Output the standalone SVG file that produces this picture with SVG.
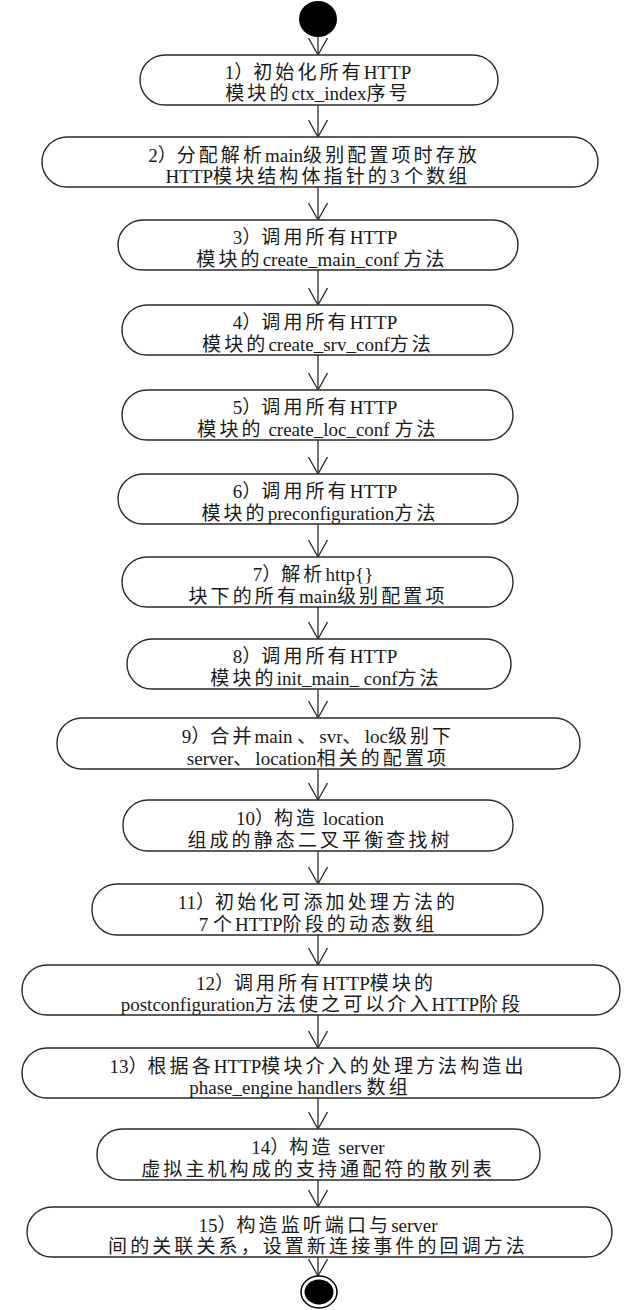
<svg xmlns="http://www.w3.org/2000/svg" width="641" height="1310" viewBox="0 0 641 1310">
<defs>
<style>
.box{fill:#fff;stroke:#2a2a2a;stroke-width:1.4}
.t{font-family:"Liberation Serif","Noto Sans CJK SC",serif;font-size:19px;fill:#1a1a1a;text-anchor:middle}
.c{letter-spacing:3.1px}
.ln{stroke:#2a2a2a;stroke-width:1.3;fill:none}
</style>
<marker id="v" markerWidth="20" markerHeight="22" refX="17" refY="10" orient="auto" markerUnits="userSpaceOnUse" viewBox="0 0 20 22">
<path d="M0,0.5 L17,10 L0,19.5" fill="none" stroke="#2a2a2a" stroke-width="1.3"/>
</marker>
</defs>
<rect width="641" height="1310" fill="#fff"/>
<g id="connectors">
<line class="ln" x1="318" y1="37" x2="318" y2="55" marker-end="url(#v)"/>
<line class="ln" x1="318" y1="105" x2="318" y2="137" marker-end="url(#v)"/>
<line class="ln" x1="318" y1="187" x2="318" y2="220" marker-end="url(#v)"/>
<line class="ln" x1="318" y1="270" x2="318" y2="305" marker-end="url(#v)"/>
<line class="ln" x1="318" y1="355" x2="318" y2="390" marker-end="url(#v)"/>
<line class="ln" x1="318" y1="440" x2="318" y2="474" marker-end="url(#v)"/>
<line class="ln" x1="318" y1="524" x2="318" y2="557" marker-end="url(#v)"/>
<line class="ln" x1="318" y1="607" x2="318" y2="639" marker-end="url(#v)"/>
<line class="ln" x1="318" y1="689" x2="318" y2="718" marker-end="url(#v)"/>
<line class="ln" x1="318" y1="769" x2="318" y2="800" marker-end="url(#v)"/>
<line class="ln" x1="318" y1="851" x2="318" y2="884" marker-end="url(#v)"/>
<line class="ln" x1="318" y1="935" x2="318" y2="965" marker-end="url(#v)"/>
<line class="ln" x1="318" y1="1015" x2="318" y2="1048" marker-end="url(#v)"/>
<line class="ln" x1="318" y1="1098" x2="318" y2="1129" marker-end="url(#v)"/>
<line class="ln" x1="318" y1="1180" x2="318" y2="1207" marker-end="url(#v)"/>
<line class="ln" x1="318" y1="1257" x2="318" y2="1276" marker-end="url(#v)"/>
</g>
<g id="start"><ellipse cx="318" cy="19" rx="19" ry="18" fill="#000"/></g>
<g id="n1"><rect class="box" x="140" y="55" width="358" height="50" rx="25"/>
<text class="t" x="318" y="79">1）<tspan class="c">初始化所有</tspan>HTTP</text>
<text class="t" x="318" y="100"><tspan class="c">模块的</tspan>ctx_index<tspan class="c">序号</tspan></text></g>
<g id="n2"><rect class="box" x="42" y="137" width="556" height="50" rx="25"/>
<text class="t" x="314" y="162">2）<tspan class="c">分配解析</tspan>main<tspan class="c">级别配置项时存放</tspan></text>
<text class="t" x="318" y="183">HTTP<tspan class="c">模块结构体指针的</tspan>3 <tspan class="c">个数组</tspan></text></g>
<g id="n3"><rect class="box" x="118" y="220" width="400" height="50" rx="25"/>
<text class="t" x="315" y="244">3）<tspan class="c">调用所有</tspan>HTTP</text>
<text class="t" x="322" y="266"><tspan class="c">模块的</tspan>create_main_conf <tspan class="c">方法</tspan></text></g>
<g id="n4"><rect class="box" x="122" y="305" width="391" height="50" rx="25"/>
<text class="t" x="315" y="329">4）<tspan class="c">调用所有</tspan>HTTP</text>
<text class="t" x="318" y="351"><tspan class="c">模块的</tspan>create_srv_conf<tspan class="c">方法</tspan></text></g>
<g id="n5"><rect class="box" x="122" y="390" width="391" height="50" rx="25"/>
<text class="t" x="315" y="414">5）<tspan class="c">调用所有</tspan>HTTP</text>
<text class="t" x="318" y="436"><tspan class="c">模块的</tspan> create_loc_conf <tspan class="c">方法</tspan></text></g>
<g id="n6"><rect class="box" x="118" y="474" width="400" height="50" rx="25"/>
<text class="t" x="315" y="498">6）<tspan class="c">调用所有</tspan>HTTP</text>
<text class="t" x="320" y="520"><tspan class="c">模块的</tspan>preconfiguration<tspan class="c">方法</tspan></text></g>
<g id="n7"><rect class="box" x="122" y="557" width="391" height="50" rx="25"/>
<text class="t" x="313" y="581">7）<tspan class="c">解析</tspan>http{}</text>
<text class="t" x="318" y="603"><tspan class="c">块下的所有</tspan>main<tspan class="c">级别配置项</tspan></text></g>
<g id="n8"><rect class="box" x="127" y="639" width="384" height="50" rx="25"/>
<text class="t" x="315" y="663">8）<tspan class="c">调用所有</tspan>HTTP</text>
<text class="t" x="326" y="685"><tspan class="c">模块的</tspan>init_main_ conf<tspan class="c">方法</tspan></text></g>
<g id="n9"><rect class="box" x="57" y="718" width="523" height="51" rx="25"/>
<text class="t" x="318" y="743">9）<tspan class="c">合并</tspan>main <tspan class="c">、</tspan>svr<tspan class="c">、</tspan>loc<tspan class="c">级别下</tspan></text>
<text class="t" x="318" y="765">server<tspan class="c">、</tspan>location<tspan class="c">相关的配置项</tspan></text></g>
<g id="n10"><rect class="box" x="123" y="800" width="390" height="51" rx="25"/>
<text class="t" x="310" y="825">10）<tspan class="c">构造</tspan> location</text>
<text class="t" x="320" y="847"><tspan class="c">组成的静态二叉平衡查找树</tspan></text></g>
<g id="n11"><rect class="box" x="92" y="884" width="451" height="51" rx="25"/>
<text class="t" x="318" y="909">11）<tspan class="c">初始化可添加处理方法的</tspan></text>
<text class="t" x="318" y="931">7 <tspan class="c">个</tspan>HTTP<tspan class="c">阶段的动态数组</tspan></text></g>
<g id="n12"><rect class="box" x="22" y="965" width="598" height="50" rx="25"/>
<text class="t" x="316" y="990">12）<tspan class="c">调用所有</tspan>HTTP<tspan class="c">模块的</tspan></text>
<text class="t" x="322" y="1011">postconfiguration<tspan class="c">方法使之可以介入</tspan>HTTP<tspan class="c">阶段</tspan></text></g>
<g id="n13"><rect class="box" x="22" y="1048" width="598" height="50" rx="25"/>
<text class="t" x="318" y="1073">13）<tspan class="c">根据各</tspan>HTTP<tspan class="c">模块介入的处理方法构造出</tspan></text>
<text class="t" x="300" y="1094">phase_engine handlers <tspan class="c">数组</tspan></text></g>
<g id="n14"><rect class="box" x="97" y="1129" width="443" height="51" rx="25"/>
<text class="t" x="318" y="1154">14）<tspan class="c">构造</tspan> server</text>
<text class="t" x="318" y="1176"><tspan class="c">虚拟主机构成的支持通配符的散列表</tspan></text></g>
<g id="n15"><rect class="box" x="27" y="1207" width="585" height="50" rx="25"/>
<text class="t" x="318" y="1232">15）<tspan class="c">构造监听端口与</tspan>server</text>
<text class="t" x="318" y="1253"><tspan class="c">间的关联关系，设置新连接事件的回调方法</tspan></text></g>
<g id="end"><ellipse cx="319" cy="1292" rx="18" ry="16" fill="#fff" stroke="#000" stroke-width="1.5"/><ellipse cx="319" cy="1292" rx="14.5" ry="12.5" fill="#000"/></g>
</svg>
